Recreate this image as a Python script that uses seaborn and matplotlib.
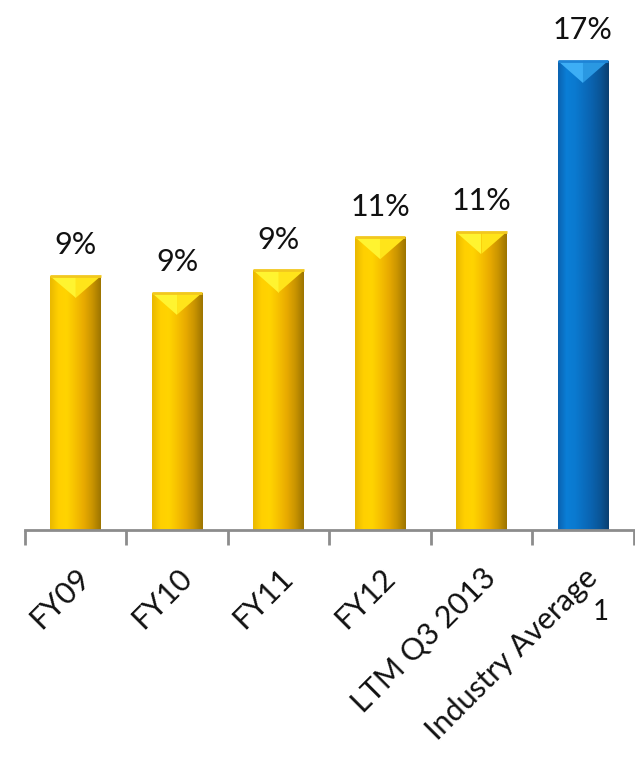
import numpy as np
import pandas as pd
import matplotlib
matplotlib.use("Agg")
import matplotlib.pyplot as plt
import seaborn as sns
from matplotlib.colors import LinearSegmentedColormap
from matplotlib.patches import Polygon

# Return metric by period, in percent
categories = ["FY09", "FY10", "FY11", "FY12", "LTM Q3 2013", "Industry Average"]
values = [9.2, 8.6, 9.4, 10.6, 10.8, 17.0]
groups = ["company", "company", "company", "company", "company", "industry"]
footnote = "1"

df = pd.DataFrame({"period": categories, "value": values, "group": groups})

sns.set_theme(style="white")
plt.rcParams["font.family"] = ["Lato", "DejaVu Sans"]

fig = plt.figure(figsize=(6.35, 7.57), dpi=100)
ax = fig.add_axes([0.039, 0.30, 0.959, 0.70])

base_colors = {"company": "#FFCC00", "industry": "#0A72C8"}
sns.barplot(data=df, x="period", y="value", hue="group", palette=base_colors,
            width=0.5, dodge=False, legend=False, ax=ax, saturation=1)

# shading ramps across each bar (left -> right) and the light bevel on top
ramps = {
    "company": ["#E9B800", "#FFD000", "#FFD400", "#F6C000", "#E8AA00", "#C99400", "#9C7400"],
    "industry": ["#0A62B0", "#0B7ED6", "#0A7AD0", "#0A6EC0", "#0A62AE", "#0A5596", "#0B3F70"],
}
bevel = {"company": ("#FFF430", "#FFE41A"), "industry": ("#3DAEF5", "#2A98E2")}
top_edge = {"company": "#F2C81E", "industry": "#1E84D6"}

ylim_top = 19.2
bevel_depth = 0.8

for patch, grp in zip(ax.patches, groups):
    x0, y0 = patch.get_x(), patch.get_y()
    w, h = patch.get_width(), patch.get_height()
    cmap = LinearSegmentedColormap.from_list(grp, ramps[grp])
    grad = np.linspace(0, 1, 256).reshape(1, -1)
    im = ax.imshow(grad, cmap=cmap, aspect="auto", extent=(x0, x0 + w, y0, y0 + h),
                   origin="lower", zorder=patch.get_zorder() + 0.1)
    im.set_clip_path(patch)
    xc = x0 + w / 2
    left_tri = Polygon([(x0, h), (xc, h), (xc, h - bevel_depth)], closed=True,
                       facecolor=bevel[grp][0], edgecolor="none", zorder=patch.get_zorder() + 0.2)
    right_tri = Polygon([(xc, h), (x0 + w, h), (xc, h - bevel_depth)], closed=True,
                        facecolor=bevel[grp][1], edgecolor="none", zorder=patch.get_zorder() + 0.2)
    ax.add_patch(left_tri)
    ax.add_patch(right_tri)
    ax.plot([x0, x0 + w], [h, h], color=top_edge[grp], lw=2, solid_capstyle="butt",
            zorder=patch.get_zorder() + 0.3)
    ax.text(xc, h + 0.6, f"{h:.0f}%", ha="center", va="bottom", fontsize=22, color="#111111")

ax.set_xlim(-0.5, len(categories) - 0.5)
ax.set_ylim(0, ylim_top)
ax.set_xlabel("")
ax.set_ylabel("")
ax.set_yticks([])

for side in ["top", "right", "left"]:
    ax.spines[side].set_visible(False)
ax.spines["bottom"].set_color("#8C8C8C")
ax.spines["bottom"].set_linewidth(2)

# category labels on major ticks, boundary marks on minor ticks
ax.set_xticks(range(len(categories)))
ax.set_xticklabels(categories, rotation=45, ha="right", rotation_mode="anchor",
                   fontsize=22, color="#111111")
ax.tick_params(axis="x", which="major", bottom=True, length=0, pad=24)
ax.set_xticks(np.arange(-0.5, len(categories), 1.0), minor=True)
ax.tick_params(axis="x", which="minor", bottom=True, length=11, width=2,
               color="#8C8C8C", direction="out")

fig.text(0.946, 0.1915, footnote, fontsize=20, ha="center", va="center", color="#111111")

fig.savefig("out.png", dpi=100)
